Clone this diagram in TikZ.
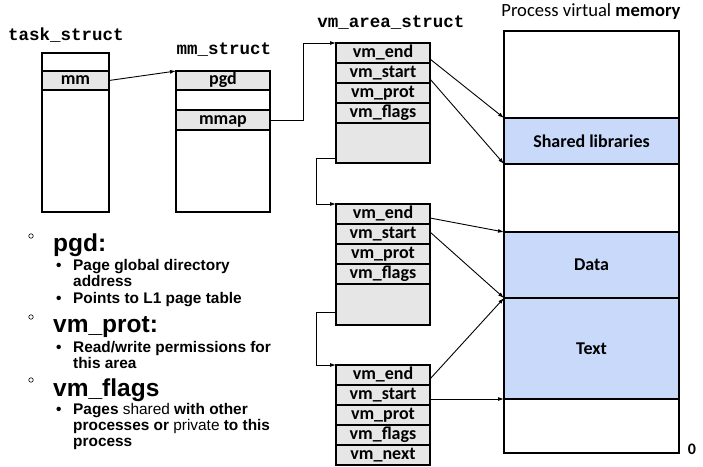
\documentclass[tikz,border=0pt]{standalone}
\usepackage{fontspec}
\setmainfont{Carlito}
\newfontfamily\arialf{Liberation Sans}
\newfontfamily\monof{Liberation Mono}
\usetikzlibrary{arrows.meta,calc}
\definecolor{rowgray}{HTML}{E6E6E6}
\definecolor{memblue}{HTML}{C9D9F9}
\begin{document}
\begin{tikzpicture}[x=1pt,y=-1pt,
  cell/.style={draw, line width=1.4pt, fill=rowgray, inner sep=0pt, outer sep=0pt,
    anchor=north west, minimum width=#1, font=\fontsize{18}{18}\selectfont\bfseries,
    text height=12.5pt, text depth=4pt},
  cell/.default=94pt,
  mem/.style={draw, line width=1.4pt, fill=white, inner sep=0pt, outer sep=0pt,
    anchor=north west, minimum width=175pt, font=\fontsize{18}{18}\selectfont\bfseries},
  title/.style={font=\monof\bfseries\fontsize{17.5}{17.5}\selectfont, inner sep=0pt},
  arr/.style={-{Latex[length=6pt,width=4pt]}, line width=0.9pt},
  hdr/.style={font=\arialf\bfseries\fontsize{24.5}{24.5}\selectfont, inner sep=0pt, anchor=base west},
  sub/.style={font=\arialf\bfseries\fontsize{15.4}{16}\selectfont, inner sep=0pt, anchor=base west},
  dot/.style={font=\arialf\bfseries\fontsize{15.4}{16}\selectfont, inner sep=0pt, anchor=base west},
  ring/.style={draw, circle, line width=0.6pt, minimum size=4.5pt, inner sep=0pt}
]
\fill[white] (0,0) rectangle (703,466);
\useasboundingbox (0,0) rectangle (703,466);

% titles
\node[title] (ttask) at (66,35) {task\_struct};
\node[title] (tmm) at (224,50) {mm\_struct};
\node[title] (tvm) at (391,23) {vm\_area\_struct};
\node[inner sep=0pt, font=\fontsize{18.6}{18.6}\selectfont] (tmem) at (591,12) {Process virtual \textbf{memory}};

% task_struct
\node[cell=67pt, fill=white, minimum height=18pt] (t0) at (42,53) {};
\node[cell=67pt, minimum height=19pt] (tmmrow) at (42,71) {mm};
\node[cell=67pt, fill=white, minimum height=122pt] (trest) at (42,90) {};

% mm_struct
\node[cell, minimum height=19pt] (pgd) at (176,71) {pgd};
\node[cell, fill=white, minimum height=20pt] (mblank) at (176,90) {};
\node[cell, minimum height=20pt] (mmap) at (176,110) {mmap};
\node[cell, fill=white, minimum height=82pt] (mrest) at (176,130) {};

% vm_area_struct 1
\node[cell, minimum height=20pt] (aend) at (336,43) {vm\_end};
\node[cell, minimum height=20pt] (astart) at (336,63) {vm\_start};
\node[cell, minimum height=20pt] (aprot) at (336,83) {vm\_prot};
\node[cell, minimum height=20pt] (aflags) at (336,103) {vm\_flags};
\node[cell, minimum height=40pt] (arest) at (336,123) {};

% vm_area_struct 2
\node[cell, minimum height=20pt] (bend) at (336,204) {vm\_end};
\node[cell, minimum height=20pt] (bstart) at (336,224) {vm\_start};
\node[cell, minimum height=20pt] (bprot) at (336,244) {vm\_prot};
\node[cell, minimum height=20pt] (bflags) at (336,264) {vm\_flags};
\node[cell, minimum height=41pt] (brest) at (336,284) {};

% vm_area_struct 3
\node[cell, minimum height=20pt] (cend) at (336,365) {vm\_end};
\node[cell, minimum height=20pt] (cstart) at (336,385) {vm\_start};
\node[cell, minimum height=20pt] (cprot) at (336,405) {vm\_prot};
\node[cell, minimum height=20pt] (cflags) at (336,425) {vm\_flags};
\node[cell, minimum height=20pt] (cnext) at (336,445) {vm\_next};

% process memory
\node[mem, minimum height=87pt] (m0) at (504,31) {};
\node[mem, fill=memblue, minimum height=46pt] (shared) at (504,118) {Shared libraries};
\node[mem, minimum height=68pt] (m2) at (504,164) {};
\node[mem, fill=memblue, minimum height=66pt] (data) at (504,232) {Data};
\node[mem, fill=memblue, minimum height=101pt] (text) at (504,298) {Text};
\node[mem, minimum height=54pt] (m5) at (504,399) {};
\node[inner sep=0pt, font=\fontsize{16}{16}\selectfont\bfseries] (zero) at (692,449) {0};

% connectors
\draw[arr] (tmmrow.east) -- (pgd.north west);
\draw[arr] (mmap.east) -- ++(33,0) |- (aend.north west);
\draw[arr] ([yshift=5pt]arest.south west) -- ++(-20,0) |- (bend.north west);
\draw[arr] ([yshift=13pt]brest.south west) -- ++(-20,0) |- (cend.north west);

\draw[arr] ([yshift=-6pt]aend.east) -- (shared.north west);
\draw[arr] ([yshift=-6pt]astart.east) -- (shared.south west);
\draw[arr] ([yshift=-4pt]bend.east) -- (data.north west);
\draw[arr] ([yshift=2pt]bstart.east) -- (data.south west);
\draw[arr] ([yshift=-4pt]cend.east) -- (text.north west);
\draw[arr] (cstart.east |- text.south west) -- (text.south west);

% left notes
\node[ring] (r1) at (31,236) {};
\node[hdr] (hpgd) at (53,251) {pgd:};
\node[dot] (d1) at (56,270) {•};
\node[sub] (s1a) at (73,270) {Page global directory};
\node[sub] (s1b) at (73,286) {address};
\node[dot] (d2) at (56,303) {•};
\node[sub] (s2) at (73,303) {Points to L1 page table};

\node[ring] (r2) at (31,317) {};
\node[hdr] (hprot) at (53,332) {vm\_prot:};
\node[dot] (d3) at (56,352) {•};
\node[sub] (s3a) at (73,352) {Read/write permissions for};
\node[sub] (s3b) at (73,368) {this area};

\node[ring] (r3) at (31,380) {};
\node[hdr] (hflags) at (53,396) {vm\_flags};
\node[dot] (d4) at (56,414) {•};
\node[sub] (s4a) at (73,414) {Pages \mdseries shared \bfseries with other};
\node[sub] (s4b) at (73,430) {processes or \mdseries private \bfseries to this};
\node[sub] (s4c) at (73,446) {process};
\end{tikzpicture}
\end{document}
